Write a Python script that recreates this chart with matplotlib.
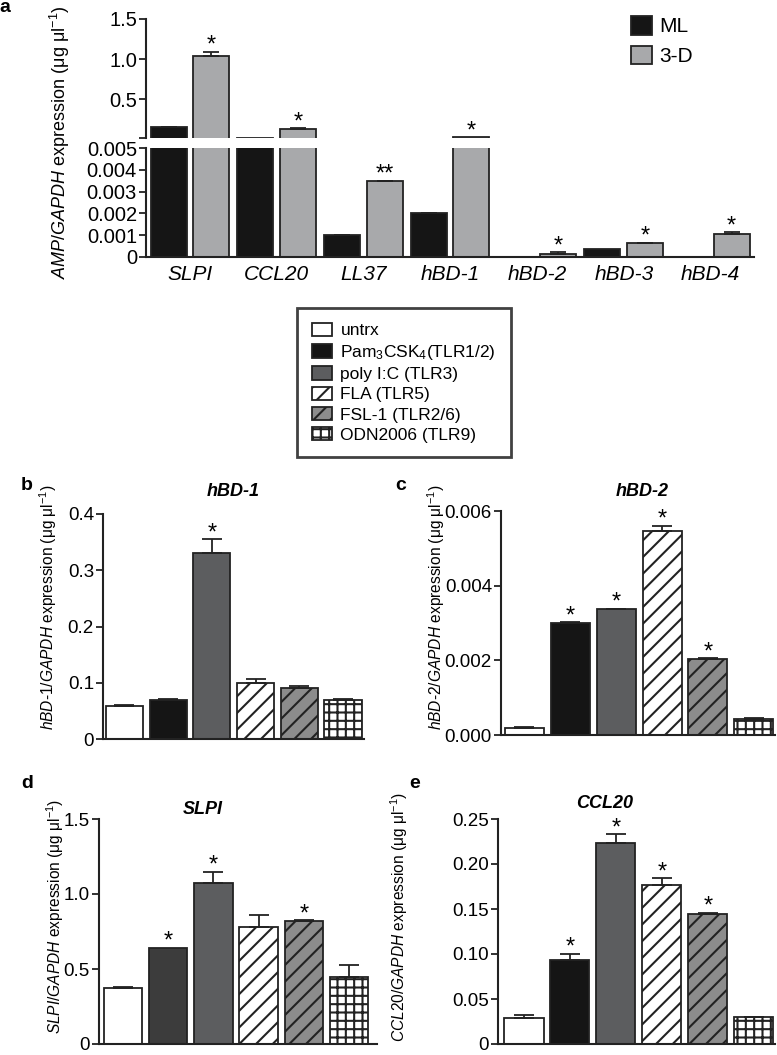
import numpy as np
import matplotlib
matplotlib.use("Agg")
import matplotlib.pyplot as plt
from matplotlib.patches import Patch

plt.rcParams['font.family'] = ['Liberation Sans', 'DejaVu Sans']
plt.rcParams['mathtext.fontset'] = 'custom'
plt.rcParams['mathtext.rm'] = 'Liberation Sans'
plt.rcParams['mathtext.it'] = 'Liberation Sans:italic'
plt.rcParams['mathtext.bf'] = 'Liberation Sans:bold'
plt.rcParams['hatch.linewidth'] = 1.5

#%% data - panel a (ML vs 3-D)
genes = ['SLPI', 'CCL20', 'LL37', 'hBD-1', 'hBD-2', 'hBD-3', 'hBD-4']
ml_vals = [0.155, 0.018, 0.0010, 0.0020, 0.00002, 0.00037, 0.00002]
ml_err = [0.002, 0.0, 0.00002, 0.00003, 0.0, 0.0, 0.0]
d3_vals = [1.04, 0.12, 0.00347, 0.022, 0.00015, 0.00064, 0.00105]
d3_err = [0.05, 0.014, 0.00003, 0.0, 0.00006, 0.00002, 0.00009]
d3_stars = ['*', '*', '**', '*', '*', '*', '*']

#%% data - panels b-e (TLR agonists)
treatments = ['untrx', r'Pam$_3$CSK$_4$(TLR1/2)', 'poly I:C (TLR3)',
              'FLA (TLR5)', 'FSL-1 (TLR2/6)', 'ODN2006 (TLR9)']
hbd1_vals = [0.059, 0.070, 0.330, 0.100, 0.090, 0.070]
hbd1_err = [0.002, 0.002, 0.025, 0.007, 0.004, 0.001]
hbd1_sig = [0, 0, 1, 0, 0, 0]
hbd2_vals = [0.0002, 0.0030, 0.00337, 0.00546, 0.00204, 0.00043]
hbd2_err = [0.00001, 0.00002, 0.00001, 0.00014, 0.00002, 0.00002]
hbd2_sig = [0, 1, 1, 1, 1, 0]
slpi_vals = [0.373, 0.640, 1.073, 0.780, 0.820, 0.447]
slpi_err = [0.005, 0.0, 0.074, 0.080, 0.004, 0.080]
slpi_sig = [0, 1, 1, 0, 1, 0]
ccl20_vals = [0.029, 0.093, 0.223, 0.177, 0.145, 0.030]
ccl20_err = [0.003, 0.007, 0.010, 0.007, 0.001, 0.0005]
ccl20_sig = [0, 1, 1, 1, 1, 0]

EDGE = '#222222'
ML_COLOR = '#151515'
D3_COLOR = '#a8a9ab'
tr_colors = ['white', '#151515', '#5c5d5f', 'white', '#8c8c8c', 'white']
tr_hatch = [None, None, None, '//', '//', '++']

W, H = 777, 1055
fig = plt.figure(figsize=(W / 100, H / 100), dpi=100)


def px_axes(l, t, r, b):
    return fig.add_axes([l / W, 1 - b / H, (r - l) / W, (b - t) / H])


def style_axes(ax, bottom=True, tick_fs=13.5):
    ax.spines['top'].set_visible(False)
    ax.spines['right'].set_visible(False)
    ax.spines['bottom'].set_visible(bottom)
    for s in ('left', 'bottom'):
        ax.spines[s].set_linewidth(1.5)
        ax.spines[s].set_color(EDGE)
    ax.tick_params(axis='y', length=5, width=1.3, color=EDGE, pad=1.5,
                   labelsize=tick_fs)
    ax.tick_params(axis='x', length=0)


def up_errors(ax, xs, vals, errs, lo, capsize=7):
    # only upward error bars, only where visible in this axis
    idx = [i for i in range(len(vals)) if errs[i] > 0 and vals[i] > lo]
    if not idx:
        return
    ax.errorbar([xs[i] for i in idx], [vals[i] for i in idx],
                yerr=[[0] * len(idx), [errs[i] for i in idx]], fmt='none',
                ecolor=EDGE, elinewidth=1.3, capthick=1.3, capsize=capsize)


def star(ax, x, y, txt='*'):
    ax.annotate(txt, xy=(x, y), xytext=(0, 0), textcoords='offset points',
                ha='center', va='baseline', fontsize=17, annotation_clip=False)


def ylab(text_it, x, y, fs):
    parts = text_it.split('-')
    s = '-'.join(r'$\mathit{' + p + '}$' for p in parts)
    fig.text(x / W, 1 - y / H, s + r' expression (μg μl$^{-1}$)',
             rotation=90, ha='center', va='center', fontsize=fs)


#%% panel a - broken axis
ax_top = px_axes(146, 19, 754, 138.3)
ax_bot = px_axes(146, 148, 754, 257)
x = np.arange(len(genes))
x_ml = x - 0.247
x_d3 = x + 0.243
for ax, lo in ((ax_top, 0.01), (ax_bot, -1)):
    ax.bar(x_ml, ml_vals, 0.415, color=ML_COLOR, edgecolor=EDGE, lw=1.3)
    ax.bar(x_d3, d3_vals, 0.415, color=D3_COLOR, edgecolor=EDGE, lw=1.3)
    up_errors(ax, x_ml, ml_vals, ml_err, lo, capsize=6)
    up_errors(ax, x_d3, d3_vals, d3_err, lo, capsize=6)
    ax.set_xlim(-0.507, 6.5)

ax_top.set_ylim(0.01, 1.5)
ax_top.set_yticks([0.01, 0.5, 1.0, 1.5])
ax_top.set_yticklabels(['', '0.5', '1.0', '1.5'])
ax_top.set_xticks([])
style_axes(ax_top, bottom=False, tick_fs=14.5)

ax_bot.set_ylim(0, 0.005)
ax_bot.set_yticks([0, 0.001, 0.002, 0.003, 0.004, 0.005])
ax_bot.set_yticklabels(['0', '0.001', '0.002', '0.003', '0.004', '0.005'])
ax_bot.set_xticks(x)
ax_bot.set_xticklabels(genes, style='italic', fontsize=15)
style_axes(ax_bot, tick_fs=14.5)
ax_bot.tick_params(axis='x', pad=6)

for i in range(len(genes)):
    top = d3_vals[i] + d3_err[i]
    star(ax_top if top > 0.005 else ax_bot, x_d3[i], top, d3_stars[i])

ax_top.legend([Patch(fc=ML_COLOR, ec=EDGE, lw=1.3), Patch(fc=D3_COLOR, ec=EDGE, lw=1.3)],
              ['ML', '3-D'], loc='upper left', bbox_to_anchor=(631 / W, 1 - 16 / H),
              bbox_transform=fig.transFigure, frameon=False, fontsize=15,
              handlelength=1.0, handleheight=1.0, handletextpad=0.35,
              labelspacing=0.45, borderaxespad=0, borderpad=0)

ylab('AMP/GAPDH', 60, 142, 13)
fig.text(5 / W, 1 - 8 / H, 'a', fontweight='bold', fontsize=14, ha='center', va='center')

#%% middle legend
handles = [Patch(fc=tr_colors[i], ec=EDGE, lw=1.3, hatch=tr_hatch[i]) for i in range(6)]
leg = fig.legend(handles, treatments, loc='upper left',
                 bbox_to_anchor=(297 / W, 1 - 308 / H), frameon=True, fancybox=False,
                 edgecolor='#111111', fontsize=12.5, handlelength=1.15, handleheight=0.8,
                 handletextpad=0.5, labelspacing=0.26, borderpad=0.85, borderaxespad=0)
leg.get_frame().set_linewidth(2)

#%% panels b-e
panels = [
    ('b', 'hBD-1', hbd1_vals, hbd1_err, hbd1_sig, (103, 514, 364, 739), (-0.49, 5.48),
     [0, 0.1, 0.2, 0.3, 0.4], ['0', '0.1', '0.2', '0.3', '0.4'],
     (27, 485), (233, 491), (48, 607)),
    ('c', 'hBD-2', hbd2_vals, hbd2_err, hbd2_sig, (501, 511, 775, 735), (-0.51, 5.46),
     [0, 0.002, 0.004, 0.006], ['0.000', '0.002', '0.004', '0.006'],
     (401, 486), (642, 491), (436, 607)),
    ('d', 'SLPI', slpi_vals, slpi_err, slpi_sig, (99, 819, 377, 1044), (-0.53, 5.62),
     [0, 0.5, 1.0, 1.5], ['0', '0.5', '1.0', '1.5'],
     (27, 783), (203, 810), (55, 916)),
    ('e', 'CCL20', ccl20_vals, ccl20_err, ccl20_sig, (498, 819, 775, 1044), (-0.565, 5.46),
     [0, 0.05, 0.10, 0.15, 0.20, 0.25], ['0', '0.05', '0.10', '0.15', '0.20', '0.25'],
     (415, 783), (605, 804), (399, 917)),
]

for lab, gene, vals, errs, sig, box, xl, yt, ytl, lab_xy, tit_xy, yl_xy in panels:
    ax = px_axes(*box)
    xs = np.arange(len(vals))
    cols = list(tr_colors)
    if lab == 'd':
        cols[1] = '#3c3c3c'
    bars = ax.bar(xs, vals, 0.85, color=cols, edgecolor=EDGE, lw=1.3)
    for b, h in zip(bars, tr_hatch):
        if h:
            b.set_hatch(h)
    up_errors(ax, xs, vals, errs, -1, capsize=7)
    ax.set_xlim(*xl)
    ax.set_ylim(yt[0], yt[-1])
    ax.set_yticks(yt)
    ax.set_yticklabels(ytl)
    ax.set_xticks([])
    style_axes(ax, tick_fs=13.5)
    for i in range(len(vals)):
        if sig[i]:
            star(ax, xs[i], vals[i] + errs[i])
    ylab(gene + '/GAPDH', yl_xy[0], yl_xy[1], 11.2)
    fig.text(tit_xy[0] / W, 1 - tit_xy[1] / H, gene, fontweight='bold', style='italic',
             fontsize=13, ha='center', va='center')
    fig.text(lab_xy[0] / W, 1 - lab_xy[1] / H, lab, fontweight='bold', fontsize=14,
             ha='center', va='center')

fig.savefig('out.png', dpi=100)
